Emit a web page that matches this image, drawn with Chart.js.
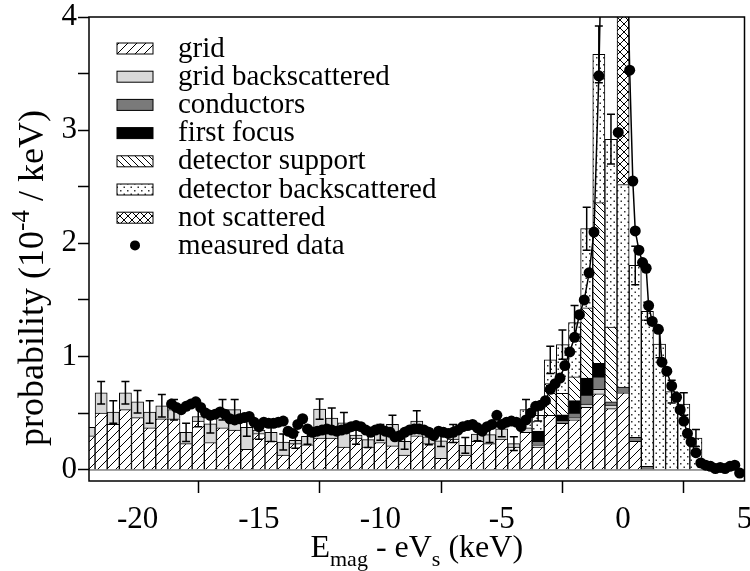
<!DOCTYPE html>
<html lang="en">
<head>
<meta charset="UTF-8">
<title>Scattering contributions vs measured spectrum</title>
<script src="https://cdn.jsdelivr.net/npm/chart.js"></script>
<style>
  body { margin: 0; background: #fff; }
  #chart { display: block; }
</style>
</head>
<body>
<canvas id="chart" width="750" height="571"></canvas>
<script>
// histogram bins, 0.5 keV wide, given by their centres (keV)
const binCentres = [-22, -21.5, -21, -20.5, -20, -19.5, -19, -18.5, -18, -17.5,
  -17, -16.5, -16, -15.5, -15, -14.5, -14, -13.5, -13, -12.5,
  -12, -11.5, -11, -10.5, -10, -9.5, -9, -8.5, -8, -7.5,
  -7, -6.5, -6, -5.5, -5, -4.5, -4, -3.5, -3, -2.5,
  -2, -1.5, -1, -0.5, 0, 0.5, 1, 1.5, 2, 2.5, 3];

// stacked simulation components (10^-4 / keV)
const grid = [0.30, 0.50, 0.40, 0.53, 0.46, 0.37, 0.45, 0.45, 0.23, 0.43,
  0.24, 0.37, 0.35, 0.18, 0.32, 0.25, 0.13, 0.23, 0.22, 0.28,
  0.28, 0.20, 0.28, 0.20, 0.24, 0.21, 0.13, 0.30, 0.23, 0.10,
  0.27, 0.13, 0.25, 0.23, 0.27, 0.20, 0.33, 0.20, 0.48, 0.41,
  0.44, 0.55, 0.67, 0.54, 0.68, 0.25, 0, 0, 0, 0, 0];
const gridBack = [0.075, 0.18, 0.11, 0.15, 0.14, 0.14, 0.115, 0.08, 0.10, 0.04,
  0.165, 0.16, 0.18, 0.195, 0.03, 0.08, 0.115, 0.03, 0.075, 0.255,
  0.175, 0.215, 0.025, 0.065, 0.09, 0.19, 0.12, 0.13, 0.06, 0.155,
  0.05, 0.085, 0.065, 0.08, 0.09, 0.03, 0.04, 0.02, 0, 0,
  0.02, 0.03, 0.04, 0.03, 0, 0, 0, 0, 0, 0, 0];
const conductors = [0, 0, 0, 0, 0, 0, 0, 0, 0, 0,
  0, 0, 0, 0, 0, 0, 0, 0, 0, 0,
  0, 0, 0, 0, 0, 0, 0, 0, 0, 0,
  0, 0, 0, 0, 0, 0, 0, 0.03, 0, 0.025,
  0.04, 0.08, 0.11, 0.03, 0.05, 0.035, 0.03, 0, 0, 0, 0];
const firstFocus = [0, 0, 0, 0, 0, 0, 0, 0, 0, 0,
  0, 0, 0, 0, 0, 0, 0, 0, 0, 0,
  0, 0, 0, 0, 0, 0, 0, 0, 0, 0,
  0, 0, 0, 0, 0, 0, 0, 0.09, 0, 0.05,
  0.11, 0.15, 0.12, 0, 0, 0, 0, 0, 0, 0, 0];
const detSupport = [0, 0, 0, 0, 0, 0, 0, 0, 0, 0,
  0, 0, 0, 0, 0, 0, 0, 0, 0, 0,
  0, 0, 0, 0, 0, 0, 0, 0, 0, 0,
  0, 0, 0, 0, 0, 0, 0, 0, 0.28, 0.19,
  0.21, 0.62, 1.42, 0.66, 0, 0, 0, 0, 0, 0, 0];
const detBack = [0, 0, 0, 0, 0, 0, 0, 0, 0, 0,
  0, 0, 0, 0, 0, 0, 0, 0, 0, 0,
  0, 0, 0, 0, 0, 0, 0, 0, 0, 0,
  0, 0, 0, 0, 0, 0, 0.16, 0.14, 0.21, 0.43,
  0.48, 0.70, 1.31, 1.66, 1.79, 1.52, 1.37, 1.11, 0.69, 0.58, 0.28];
const notScattered = [0, 0, 0, 0, 0, 0, 0, 0, 0, 0,
  0, 0, 0, 0, 0, 0, 0, 0, 0, 0,
  0, 0, 0, 0, 0, 0, 0, 0, 0, 0,
  0, 0, 0, 0, 0, 0, 0, 0, 0, 0,
  0, 0, 0, 0, 3.0, 0, 0, 0, 0, 0, 0];
// statistical error on the summed simulation
const simError = [0, 0.10, 0.10, 0.10, 0.10, 0.10, 0.10, 0.09, 0.08, 0.09,
  0.08, 0.09, 0.09, 0.08, 0.08, 0.08, 0.07, 0.07, 0.07, 0.09,
  0.09, 0.09, 0.08, 0.07, 0.07, 0.08, 0.07, 0.09, 0.07, 0.05,
  0.08, 0.07, 0.06, 0.07, 0.07, 0.06, 0.09, 0.05, 0.12, 0.13,
  0.15, 0.19, 0.25, 0.22, 0, 0.17, 0.08, 0.12, 0.10, 0.10, 0.075];

// measured spectrum
const dataE = [-18.6, -18.4, -18.2, -18.0, -17.8, -17.6, -17.4, -17.2, -17.0, -16.8,
  -16.6, -16.4, -16.2, -16.0, -15.8, -15.6, -15.4, -15.2, -15.0, -14.8,
  -14.6, -14.4, -14.2, -14.0, -13.8, -13.6, -13.4, -13.2, -13.0, -12.8,
  -12.6, -12.4, -12.2, -12.0, -11.8, -11.6, -11.4, -11.2, -11.0, -10.8,
  -10.6, -10.4, -10.2, -10.0, -9.8, -9.6, -9.4, -9.2, -9.0, -8.8,
  -8.6, -8.4, -8.2, -8.0, -7.8, -7.6, -7.4, -7.2, -7.0, -6.8,
  -6.6, -6.4, -6.2, -6.0, -5.8, -5.6, -5.4, -5.2, -5.0, -4.8,
  -4.6, -4.4, -4.2, -4.0, -3.8, -3.6, -3.4, -3.2, -3.0, -2.8,
  -2.6, -2.4, -2.2, -2.0, -1.8, -1.6, -1.4, -1.2, -1.0, -0.2,
  0.27, 0.4, 0.5, 0.65, 0.8, 0.95, 1.05, 1.2, 1.45, 1.6,
  1.8, 2.0, 2.2, 2.35, 2.5, 2.65, 2.8, 3.0, 3.2, 3.4,
  3.6, 3.8, 4.0, 4.2, 4.4, 4.6, 4.8];
const dataP = [0.58, 0.55, 0.53, 0.56, 0.58, 0.60, 0.55, 0.50, 0.48, 0.49,
  0.51, 0.49, 0.45, 0.44, 0.45, 0.46, 0.47, 0.42, 0.38, 0.42,
  0.41, 0.41, 0.42, 0.43, 0.34, 0.32, 0.40, 0.45, 0.36, 0.33,
  0.34, 0.35, 0.36, 0.35, 0.34, 0.35, 0.36, 0.38, 0.39, 0.38,
  0.35, 0.33, 0.35, 0.36, 0.34, 0.33, 0.29, 0.30, 0.33, 0.35,
  0.36, 0.36, 0.35, 0.33, 0.30, 0.34, 0.33, 0.32, 0.33, 0.35,
  0.38, 0.39, 0.40, 0.37, 0.34, 0.38, 0.40, 0.48, 0.40, 0.42,
  0.43, 0.42, 0.38, 0.44, 0.50, 0.56, 0.57, 0.61, 0.71, 0.76,
  0.81, 0.92, 1.04, 1.17, 1.37, 1.50, 1.74, 2.10, 3.48, 2.98,
  3.53, 2.55, 2.11, 1.94, 1.83, 1.78, 1.45, 1.31, 1.24, 0.95,
  0.87, 0.74, 0.64, 0.53, 0.43, 0.32, 0.245, 0.15, 0.06, 0.04,
  0.03, 0.01, 0.02, 0.01, 0.03, 0.04, -0.03];

// line drawn through the peak
const curveE = [-3.2, -3.0, -2.8, -2.6, -2.4, -2.2, -2.0, -1.8, -1.6, -1.4,
  -1.2, -1.0, -0.35, 0.27, 0.4, 0.5, 0.65, 0.8, 0.95, 1.05,
  1.2, 1.5, 1.6, 1.8, 2.0, 2.2, 2.35, 2.5, 2.65, 2.8, 3.0, 3.1];
const curveP = [0.61, 0.71, 0.76, 0.81, 0.92, 1.04, 1.17, 1.37, 1.50, 1.74,
  2.10, 3.48, 10.5, 3.53, 2.55, 2.11, 1.94, 1.83, 1.78, 1.45,
  1.31, 1.22, 0.95, 0.87, 0.74, 0.64, 0.53, 0.43, 0.32, 0.245, 0.15, 0.12];

const FONT = 'Liberation Serif';
Chart.defaults.font.family = FONT;
Chart.defaults.color = '#000';

// fill patterns for the stacked components
function makePattern(kind) {
  const size = { fwd: 9, back: 7, cross: 8, dots: 7 }[kind];
  const c = document.createElement('canvas');
  c.width = size; c.height = size;
  const g = c.getContext('2d');
  g.fillStyle = '#fff';
  g.fillRect(0, 0, size, size);
  g.strokeStyle = '#000';
  g.lineWidth = 1;
  if (kind === 'fwd' || kind === 'cross') {
    g.beginPath();
    g.moveTo(0, size); g.lineTo(size, 0);
    g.moveTo(-1, 1); g.lineTo(1, -1);
    g.moveTo(size - 1, size + 1); g.lineTo(size + 1, size - 1);
    g.stroke();
  }
  if (kind === 'back' || kind === 'cross') {
    g.beginPath();
    g.moveTo(0, 0); g.lineTo(size, size);
    g.moveTo(size - 1, -1); g.lineTo(size + 1, 1);
    g.moveTo(-1, size - 1); g.lineTo(1, size + 1);
    g.stroke();
  }
  if (kind === 'dots') {
    g.fillStyle = '#333';
    g.fillRect(1, 1, 1.5, 1.5);
    g.fillRect(4.5, 4.5, 1.5, 1.5);
  }
  return g.createPattern(c, 'repeat');
}

const components = [
  { label: 'grid', values: grid, fill: makePattern('fwd') },
  { label: 'grid backscattered', values: gridBack, fill: '#d9d9d9' },
  { label: 'conductors', values: conductors, fill: '#7a7a7a' },
  { label: 'first focus', values: firstFocus, fill: '#000' },
  { label: 'detector support', values: detSupport, fill: makePattern('back') },
  { label: 'detector backscattered', values: detBack, fill: makePattern('dots') },
  { label: 'not scattered', values: notScattered, fill: makePattern('cross') }
];

const barSets = components.map(comp => ({
  type: 'bar',
  label: comp.label,
  data: binCentres.map((c, i) => ({ x: c, y: comp.values[i] || null })),
  backgroundColor: comp.fill,
  borderColor: '#000',
  borderWidth: 1,
  barPercentage: 1,
  categoryPercentage: 1,
  yAxisID: 'y'
}));

const FIRST_BAR = 2;

// error bars on top of the stacked bars
const errorBars = {
  id: 'errorBars',
  afterDatasetDraw(chart, args) {
    if (args.index !== FIRST_BAR) return;
    const xs = chart.scales.x, ys = chart.scales.y, ctx = chart.ctx, a = chart.chartArea;
    ctx.save();
    ctx.beginPath();
    ctx.rect(a.left, a.top, a.right - a.left, a.bottom - a.top);
    ctx.clip();
    ctx.strokeStyle = '#000';
    ctx.lineWidth = 1.5;
    binCentres.forEach((c, i) => {
      if (!simError[i]) return;
      const total = components.reduce((s, comp) => s + comp.values[i], 0);
      const px = xs.getPixelForValue(c);
      const y1 = ys.getPixelForValue(total - simError[i]);
      const y2 = ys.getPixelForValue(total + simError[i]);
      ctx.beginPath();
      ctx.moveTo(px, y1); ctx.lineTo(px, y2);
      ctx.moveTo(px - 4, y1); ctx.lineTo(px + 4, y1);
      ctx.moveTo(px - 4, y2); ctx.lineTo(px + 4, y2);
      ctx.stroke();
    });
    ctx.restore();
  }
};

// zero line, frame, axis titles and legend
const decorations = {
  id: 'decorations',
  beforeDatasetsDraw(chart) {
    const ctx = chart.ctx, a = chart.chartArea;
    const y0 = chart.scales.y.getPixelForValue(0);
    ctx.save();
    ctx.strokeStyle = '#888';
    ctx.lineWidth = 2;
    ctx.beginPath();
    ctx.moveTo(a.left, y0); ctx.lineTo(a.right, y0);
    ctx.stroke();
    ctx.restore();
  },
  afterDraw(chart) {
    const ctx = chart.ctx, a = chart.chartArea;
    ctx.save();
    ctx.strokeStyle = '#000';
    ctx.lineWidth = 1.5;
    ctx.strokeRect(a.left, a.top, a.right - a.left, a.bottom - a.top);

    // x title with subscripts
    const xParts = [['E', 0], ['mag', 1], [' - eV', 0], ['s', 1], [' (keV)', 0]];
    drawParts(ctx, xParts, (a.left + a.right) / 2, 557, 32);

    // y title, rotated
    ctx.save();
    ctx.translate(43, 278);
    ctx.rotate(-Math.PI / 2);
    const yParts = [['probability (10', 0], ['-4', -1], [' / keV)', 0]];
    drawParts(ctx, yParts, 0, 0, 36);
    ctx.restore();

    // legend
    const lx = 117, ly = 48, step = 28.2;
    ctx.textBaseline = 'middle';
    ctx.textAlign = 'left';
    ctx.font = '29px ' + FONT;
    components.forEach((comp, i) => {
      const cy = ly + step * i;
      ctx.fillStyle = comp.fill;
      ctx.fillRect(lx, cy - 5, 36, 11);
      ctx.lineWidth = 1;
      ctx.strokeRect(lx, cy - 5, 36, 11);
      ctx.fillStyle = '#000';
      ctx.fillText(comp.label, 178, cy + 1);
    });
    const my = ly + step * components.length;
    ctx.beginPath();
    ctx.arc(lx + 18, my, 5, 0, Math.PI * 2);
    ctx.fill();
    ctx.fillText('measured data', 178, my + 1);
    ctx.restore();
  }
};

function drawParts(ctx, parts, cx, baseline, size) {
  const big = size + 'px ' + FONT, small = Math.round(size * 0.7) + 'px ' + FONT;
  let w = 0;
  parts.forEach(([t, k]) => { ctx.font = k ? small : big; w += ctx.measureText(t).width; });
  let x = cx - w / 2;
  ctx.fillStyle = '#000';
  ctx.textAlign = 'left';
  ctx.textBaseline = 'alphabetic';
  parts.forEach(([t, k]) => {
    ctx.font = k ? small : big;
    ctx.fillText(t, x, baseline + (k === 1 ? size * 0.27 : k === -1 ? -size * 0.4 : 0));
    x += ctx.measureText(t).width;
  });
}

new Chart(document.getElementById('chart'), {
  type: 'bar',
  data: {
    datasets: [
      {
        type: 'scatter',
        label: 'measured data',
        data: dataE.map((e, i) => ({ x: e, y: dataP[i] })),
        backgroundColor: '#000',
        borderWidth: 0,
        pointRadius: 5.5,
        yAxisID: 'y2'
      },
      {
        type: 'line',
        label: 'peak curve',
        data: curveE.map((e, i) => ({ x: e, y: curveP[i] })),
        borderColor: '#000',
        borderWidth: 1.5,
        pointRadius: 0,
        fill: false,
        yAxisID: 'y2'
      },
      ...barSets
    ]
  },
  options: {
    responsive: false,
    animation: false,
    devicePixelRatio: 1,
    layout: { padding: { top: 17, right: 3, left: 0, bottom: 0 } },
    plugins: { legend: { display: false }, tooltip: { enabled: false } },
    scales: {
      x: {
        type: 'linear',
        min: -22,
        max: 5,
        stacked: true,
        offset: false,
        border: { display: false },
        grid: { drawOnChartArea: false, drawTicks: true, tickLength: 12, tickColor: '#000', tickWidth: 1.5 },
        ticks: { stepSize: 5, includeBounds: false, maxRotation: 0, padding: 8, font: { size: 31 } },
        afterFit: s => { s.height = 90; s.paddingLeft = 0; s.paddingRight = 0; }
      },
      y: {
        min: -0.1,
        max: 4,
        stacked: true,
        border: { display: false },
        grid: { drawOnChartArea: false, drawTicks: true, tickLength: 11, tickColor: '#000', tickWidth: 1.5 },
        ticks: {
          stepSize: 0.5,
          includeBounds: false,
          padding: 1,
          font: { size: 31 },
          callback: v => Number.isInteger(v) ? String(v) : ''
        },
        afterFit: s => { s.width = 89; s.paddingTop = 0; s.paddingBottom = 0; }
      },
      y2: { display: false, min: -0.1, max: 4 }
    }
  },
  plugins: [errorBars, decorations]
});
</script>
</body>
</html>
